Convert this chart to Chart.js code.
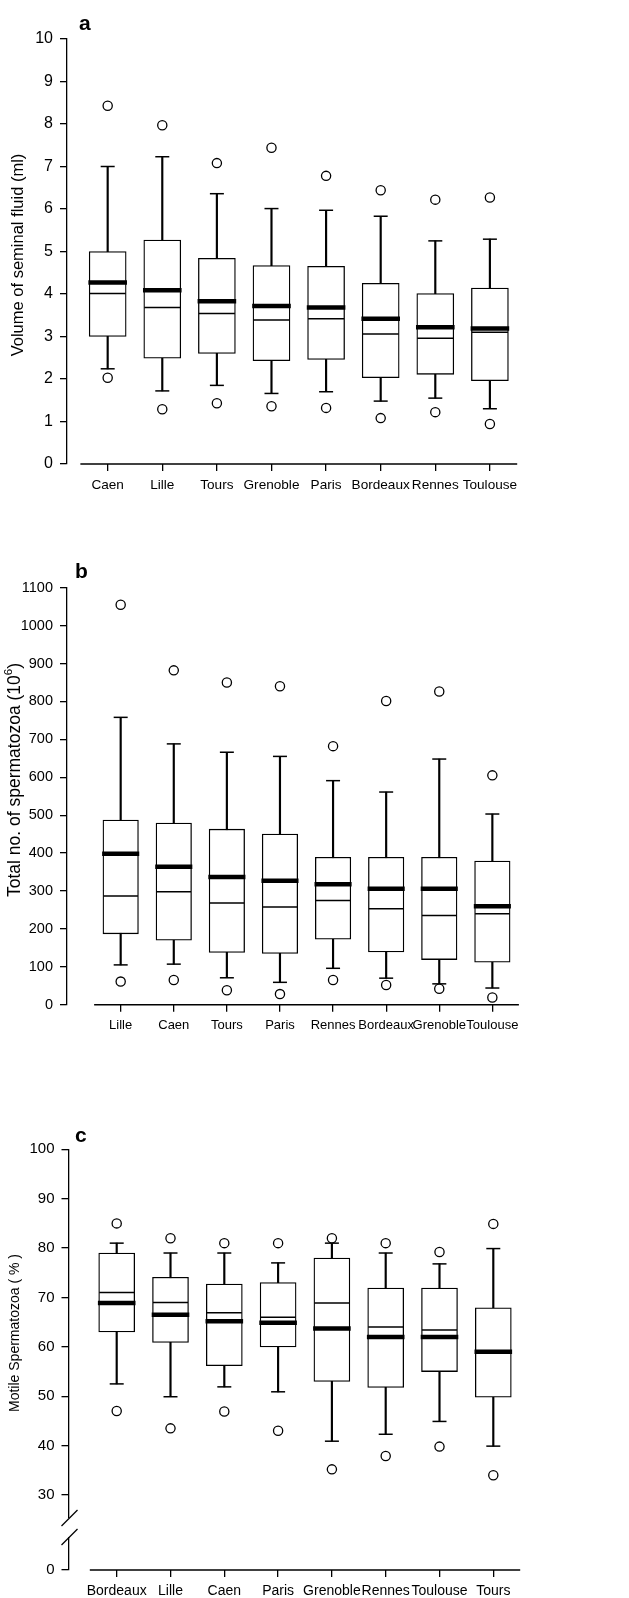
<!DOCTYPE html>
<html>
<head>
<meta charset="utf-8">
<script src="https://cdn.jsdelivr.net/npm/chart.js@4.4.1/dist/chart.umd.min.js"></script>
<style>
  html, body { margin: 0; padding: 0; background: #fff; }
  body { width: 629px; height: 1598px; position: relative; overflow: hidden; }
  .panel { position: absolute; left: 0; width: 629px; }
  #panelA { top: 0; height: 520px; }
  #panelB { top: 520px; height: 530px; }
  #panelC { top: 1050px; height: 548px; }
</style>
</head>
<body>
<div class="panel" id="panelA"><canvas id="chartA"></canvas></div>
<div class="panel" id="panelB"><canvas id="chartB"></canvas></div>
<div class="panel" id="panelC"><canvas id="chartC"></canvas></div>
<script>
// =========================
// DONNÉES
// =========================

// a - volume of seminal fluid (ml)
const citiesA = ['Caen', 'Lille', 'Tours', 'Grenoble', 'Paris', 'Bordeaux', 'Rennes', 'Toulouse'];
const volLow     = [2.24, 1.72, 1.85, 1.66, 1.70, 1.48, 1.55, 1.30];
const volQ1      = [3.00, 2.49, 2.60, 2.43, 2.46, 2.03, 2.11, 1.96];
const volMedian  = [4.01, 3.68, 3.54, 3.39, 3.42, 3.06, 2.96, 3.10];
const volMean    = [4.27, 4.09, 3.83, 3.72, 3.68, 3.42, 3.22, 3.19];
const volQ3      = [5.00, 5.27, 4.84, 4.67, 4.65, 4.25, 4.01, 4.14];
const volHigh    = [7.00, 7.23, 6.36, 6.01, 5.97, 5.83, 5.25, 5.29];
const volOutLow  = [2.03, 1.29, 1.43, 1.36, 1.32, 1.08, 1.22, 0.94];
const volOutHigh = [8.43, 7.97, 7.08, 7.44, 6.78, 6.44, 6.22, 6.27];
const volTicks   = [0, 1, 2, 3, 4, 5, 6, 7, 8, 9, 10];

// b - total no. of spermatozoa (10^6)
const citiesB = ['Lille', 'Caen', 'Tours', 'Paris', 'Rennes', 'Bordeaux', 'Grenoble', 'Toulouse'];
const cntLow     = [105, 107, 71, 59, 96, 70, 55, 44];
const cntQ1      = [187, 170, 138, 135, 173, 139, 119, 112];
const cntMedian  = [287, 298, 268, 258, 275, 253, 235, 240];
const cntMean    = [398, 364, 337, 327, 318, 306, 306, 260];
const cntQ3      = [487, 479, 463, 450, 389, 389, 389, 379];
const cntHigh    = [758, 688, 666, 655, 591, 561, 648, 503];
const cntOutLow  = [61, 65, 38, 28, 65, 52, 42, 19];
const cntOutHigh = [1055, 882, 850, 840, 682, 801, 826, 605];
const cntTicks   = [0, 100, 200, 300, 400, 500, 600, 700, 800, 900, 1000, 1100];

// c - motile spermatozoa (%)
const citiesC = ['Bordeaux', 'Lille', 'Caen', 'Paris', 'Grenoble', 'Rennes', 'Toulouse', 'Tours'];
const motLow     = [52.5, 49.9, 51.9, 50.9, 40.9, 42.3, 44.9, 39.9];
const motQ1      = [63.0, 60.9, 56.2, 60.0, 53.0, 51.8, 55.0, 49.8];
const motMedian  = [71.0, 69.0, 66.9, 66.0, 68.9, 64.0, 63.4, 59.0];
const motMean    = [68.9, 66.5, 65.2, 64.9, 63.7, 62.0, 62.0, 59.0];
const motQ3      = [79.0, 74.1, 72.7, 73.0, 78.0, 71.9, 71.9, 67.9];
const motHigh    = [81.0, 79.0, 79.0, 77.0, 81.0, 79.0, 76.8, 79.9];
const motOutLow  = [47.0, 43.5, 46.9, 43.0, 35.2, 37.9, 39.8, 34.0];
const motOutHigh = [85.0, 82.0, 81.0, 81.0, 82.0, 81.0, 79.2, 84.9];
const motTicks   = [30, 40, 50, 60, 70, 80, 90, 100];

const FONT = '"Liberation Sans", Arial, Helvetica, sans-serif';

// =========================
// BOÎTES À MOUSTACHES
// =========================

function boxDatasets(low, q1, median, mean, q3, high, outLow, outHigh, boxWidth) {
  const pts = arr => arr.map((v, i) => ({ x: i, y: v }));
  const spans = (a, b) => a.map((v, i) => ({ x: i, y: [v, b[i]] }));
  const marker = (data, style, radius, width, order) => ({
    type: 'line',
    data: pts(data),
    showLine: false,
    order: order,
    clip: false,
    pointStyle: style,
    pointRadius: radius,
    pointHoverRadius: radius,
    pointBorderColor: '#000',
    pointBackgroundColor: '#fff',
    pointBorderWidth: width,
    pointHoverBorderWidth: width,
    borderColor: '#000'
  });

  return [
    // whiskers
    {
      type: 'bar', data: spans(low, high), order: 6, grouped: false,
      backgroundColor: '#000', barThickness: 1.5
    },
    // boxes
    {
      type: 'bar', data: spans(q1, q3), order: 5, grouped: false,
      backgroundColor: '#fff', borderColor: '#000', borderWidth: 1.3,
      borderSkipped: false, barThickness: boxWidth
    },
    marker(low, 'line', 7, 1.5, 4),
    marker(high, 'line', 7, 1.5, 4),
    marker(median, 'line', boxWidth / 2 - 0.5, 1.5, 3),
    marker(mean, 'line', boxWidth / 2 + 0.8, 4.5, 2),
    marker(outLow, 'circle', 4.6, 1.3, 1),
    marker(outHigh, 'circle', 4.6, 1.3, 1)
  ];
}

// =========================
// DÉCOR (lettres, titres, axe x, coupure)
// =========================

const decor = {
  id: 'decor',
  afterDraw(chart, args, o) {
    const ctx = chart.ctx;
    const area = chart.chartArea;
    const sx = chart.scales.x;
    const sy = chart.scales.y;
    ctx.save();
    ctx.fillStyle = '#000';
    ctx.strokeStyle = '#000';

    // x axis line, detached from y axis
    ctx.lineWidth = 1.5;
    ctx.beginPath();
    ctx.moveTo(sx.getPixelForValue(-0.5), area.bottom);
    ctx.lineTo(area.right, area.bottom);
    ctx.stroke();

    // axis break
    if (o.breakFrom !== undefined) {
      const ax = area.left;
      const y1 = sy.getPixelForValue(o.breakFrom);
      const y2 = sy.getPixelForValue(o.breakTo);
      ctx.fillStyle = '#fff';
      ctx.fillRect(ax - 3, y1, 6, y2 - y1);
      ctx.fillStyle = '#000';
      ctx.lineWidth = 1.3;
      [y1, y2].forEach(y => {
        ctx.beginPath();
        ctx.moveTo(ax - 7, y + 8);
        ctx.lineTo(ax + 9, y - 8);
        ctx.stroke();
      });
    }

    // panel letter
    ctx.font = 'bold 21px ' + FONT;
    ctx.textAlign = 'left';
    ctx.textBaseline = 'alphabetic';
    ctx.fillText(o.letter, o.letterX, o.letterY);

    // y title
    ctx.translate(o.titleX, o.titleY);
    ctx.rotate(-Math.PI / 2);
    ctx.textBaseline = 'middle';
    ctx.textAlign = 'left';
    const main = o.titleFont + ' ' + FONT;
    const sup = o.supFont + ' ' + FONT;
    const parts = [[o.title, main, 0]];
    if (o.sup) parts.push([o.sup, sup, -6], [o.after, main, 0]);
    let total = 0;
    parts.forEach(p => { ctx.font = p[1]; total += ctx.measureText(p[0]).width; });
    let x = -total / 2;
    parts.forEach(p => {
      ctx.font = p[1];
      ctx.fillText(p[0], x, p[2]);
      x += ctx.measureText(p[0]).width;
    });
    ctx.restore();
  }
};

function makeChart(id, p) {
  return new Chart(document.getElementById(id), {
    type: 'bar',
    data: {
      datasets: boxDatasets(p.low, p.q1, p.median, p.mean, p.q3, p.high, p.outLow, p.outHigh, p.boxWidth)
    },
    options: {
      responsive: true,
      maintainAspectRatio: false,
      animation: false,
      events: [],
      layout: { padding: p.padding },
      plugins: {
        legend: { display: false },
        tooltip: { enabled: false },
        decor: p.decor
      },
      scales: {
        x: {
          type: 'linear',
          min: p.xMin,
          max: 7.5,
          offset: false,
          afterBuildTicks: s => { s.ticks = p.labels.map((_, i) => ({ value: i })); },
          afterFit: s => { s.height = 26; },
          border: { display: false },
          grid: { drawOnChartArea: false, drawTicks: true, tickLength: 7, color: '#000', lineWidth: 1.3, offset: false },
          ticks: {
            autoSkip: false, maxRotation: 0, minRotation: 0, color: '#000', padding: 6,
            font: { family: FONT, size: p.xFont },
            callback: v => p.labels[v]
          }
        },
        y: {
          min: p.yMin,
          max: p.yMax,
          afterBuildTicks: s => { s.ticks = p.yTicks.map(v => ({ value: v })); },
          afterFit: s => { s.width = p.axisX; },
          border: { display: true, color: '#000', width: 1.3 },
          grid: { drawOnChartArea: false, drawTicks: true, tickLength: 7, color: '#000', lineWidth: 1.3 },
          ticks: {
            color: '#000', padding: 7,
            font: { family: FONT, size: p.yFont },
            callback: p.yLabel || (v => v)
          }
        }
      }
    },
    plugins: [decor]
  });
}

// =========================
// GRAPHIQUES
// =========================

makeChart('chartA', {
  labels: citiesA,
  low: volLow, q1: volQ1, median: volMedian, mean: volMean, q3: volQ3, high: volHigh,
  outLow: volOutLow, outHigh: volOutHigh,
  yMin: 0, yMax: 10, yTicks: volTicks,
  xMin: -0.745, axisX: 67, boxWidth: 37, xFont: 13.6, yFont: 16,
  padding: { top: 39, bottom: 30, left: 0, right: 111.8 },
  decor: {
    letter: 'a', letterX: 79, letterY: 30,
    title: 'Volume of seminal fluid (ml)', titleFont: '16.5px',
    titleX: 18.5, titleY: 255
  }
});

makeChart('chartB', {
  labels: citiesB,
  low: cntLow, q1: cntQ1, median: cntMedian, mean: cntMean, q3: cntQ3, high: cntHigh,
  outLow: cntOutLow, outHigh: cntOutHigh,
  yMin: 0, yMax: 1100, yTicks: cntTicks,
  xMin: -1.011, axisX: 67, boxWidth: 35.5, xFont: 13, yFont: 14.5,
  padding: { top: 67.7, bottom: 19.3, left: 0, right: 110.1 },
  decor: {
    letter: 'b', letterX: 75, letterY: 58,
    title: 'Total no. of spermatozoa (10', sup: '6', after: ')',
    titleFont: '17.5px', supFont: '11.5px',
    titleX: 15, titleY: 260
  }
});

makeChart('chartC', {
  labels: citiesC,
  low: motLow, q1: motQ1, median: motMedian, mean: motMean, q3: motQ3, high: motHigh,
  outLow: motOutLow, outHigh: motOutHigh,
  yMin: 14.82, yMax: 100, yTicks: [14.82].concat(motTicks),
  yLabel: v => (v < 30 ? '0' : v),
  xMin: -0.896, axisX: 68.5, boxWidth: 36, xFont: 14, yFont: 15,
  padding: { top: 99.3, bottom: 2, left: 0, right: 108.8 },
  decor: {
    letter: 'c', letterX: 75, letterY: 92,
    title: 'Motile Spermatozoa ( % )', titleFont: '14px',
    titleX: 15, titleY: 283,
    breakFrom: 25.34, breakTo: 21.5
  }
});
</script>
</body>
</html>
